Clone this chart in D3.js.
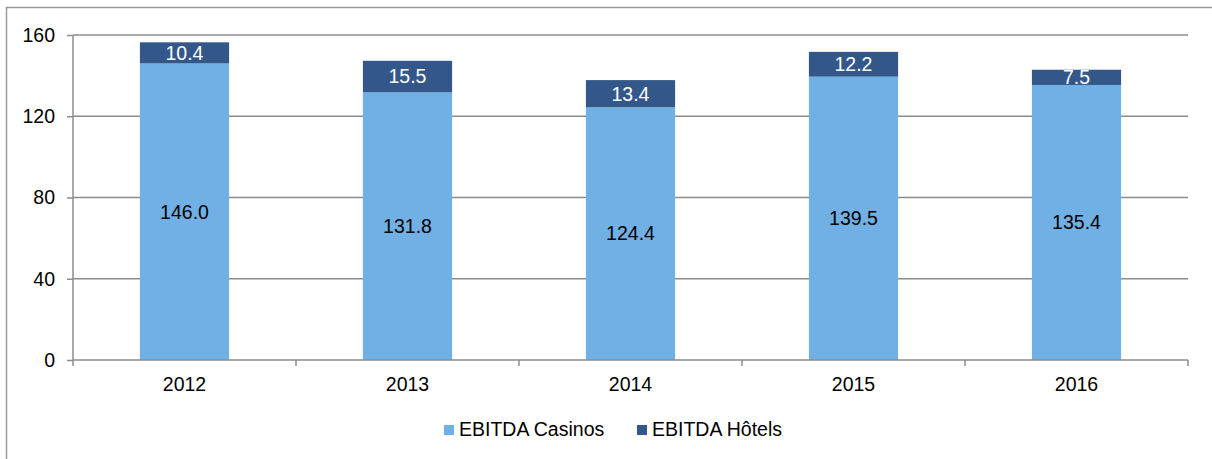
<!DOCTYPE html>
<html>
<head>
<meta charset="utf-8">
<script src="https://cdn.jsdelivr.net/npm/d3@7"></script>
<style>
  html, body { margin: 0; padding: 0; background: #fff; }
  svg { display: block; font-family: "Liberation Sans", Arial, sans-serif; }
</style>
</head>
<body>
<svg id="chart" width="1212" height="459"></svg>
<script>
// EBITDA by year, split between casinos and hotels
const years = ["2012", "2013", "2014", "2015", "2016"];
const casinos = [146.0, 131.8, 124.4, 139.5, 135.4];
const hotels = [10.4, 15.5, 13.4, 12.2, 7.5];
const yTicks = [0, 40, 80, 120, 160];
const seriesNames = ["EBITDA Casinos", "EBITDA Hôtels"];
const seriesColors = ["#71B0E5", "#34578A"];

const svg = d3.select("#chart");
const W = 1212, H = 459;
const plot = { left: 73, right: 1188, top: 35, bottom: 360 };
const fontSize = 19.5;

// Outer frame
svg.append("rect")
  .attr("x", 6.5).attr("y", 7.5)
  .attr("width", W + 10).attr("height", H + 10)
  .attr("fill", "none").attr("stroke", "#9a9a9a").attr("stroke-width", 1.5);

const x = d3.scaleBand().domain(years).range([plot.left, plot.right]).paddingInner(0.6).paddingOuter(0.3);
const xCat = d3.scaleBand().domain(years).range([plot.left, plot.right]);
const y = d3.scaleLinear().domain([0, 160]).range([plot.bottom, plot.top]);

// Horizontal gridlines
svg.append("g").selectAll("line").data(yTicks.filter(t => t > 0)).join("line")
  .attr("x1", plot.left).attr("x2", plot.right)
  .attr("y1", d => y(d)).attr("y2", d => y(d))
  .attr("stroke", "#8c8c8c").attr("stroke-width", 1.5);

// Stacked bars
const stacked = years.map((yr, i) => ({ yr, c: casinos[i], h: hotels[i] }));
const bars = svg.append("g");
bars.selectAll("rect.c").data(stacked).join("rect")
  .attr("x", d => x(d.yr)).attr("width", x.bandwidth())
  .attr("y", d => y(d.c)).attr("height", d => y(0) - y(d.c))
  .attr("fill", seriesColors[0]);
bars.selectAll("rect.h").data(stacked).join("rect")
  .attr("x", d => x(d.yr)).attr("width", x.bandwidth())
  .attr("y", d => y(d.c + d.h)).attr("height", d => y(d.c) - y(d.c + d.h))
  .attr("fill", seriesColors[1]);

// Value labels centred in each segment
const labels = svg.append("g").attr("font-size", fontSize).attr("text-anchor", "middle");
labels.selectAll("text.c").data(stacked).join("text")
  .attr("x", d => x(d.yr) + x.bandwidth() / 2)
  .attr("y", d => y(d.c / 2)).attr("dy", "0.35em")
  .attr("fill", "#000").text(d => d.c.toFixed(1));
labels.selectAll("text.h").data(stacked).join("text")
  .attr("x", d => x(d.yr) + x.bandwidth() / 2)
  .attr("y", d => y(d.c + d.h / 2)).attr("dy", "0.35em")
  .attr("fill", "#fff").text(d => d.h.toFixed(1));

// Y axis
const yAxis = svg.append("g").attr("transform", `translate(${plot.left},0)`)
  .call(d3.axisLeft(y).tickValues(yTicks).tickSize(6).tickPadding(12).tickFormat(d3.format("d")));
yAxis.select(".domain").attr("stroke", "#8c8c8c").attr("stroke-width", 1.5).attr("d", `M0,${plot.top}V${plot.bottom}`);
yAxis.selectAll(".tick line").attr("stroke", "#8c8c8c").attr("stroke-width", 1.5);
yAxis.selectAll(".tick text").attr("font-size", fontSize).attr("fill", "#000").attr("font-family", null);

// X axis with tick marks at category boundaries
const xg = svg.append("g");
xg.append("line")
  .attr("x1", plot.left).attr("x2", plot.right)
  .attr("y1", plot.bottom).attr("y2", plot.bottom)
  .attr("stroke", "#8c8c8c").attr("stroke-width", 1.5);
const boundaries = years.map(yr => xCat(yr)).concat([plot.right]);
xg.selectAll("line.b").data(boundaries).join("line")
  .attr("x1", d => d).attr("x2", d => d)
  .attr("y1", plot.bottom).attr("y2", plot.bottom + 6)
  .attr("stroke", "#8c8c8c").attr("stroke-width", 1.5);
xg.selectAll("text").data(years).join("text")
  .attr("x", d => xCat(d) + xCat.bandwidth() / 2)
  .attr("y", 391)
  .attr("text-anchor", "middle").attr("font-size", fontSize).attr("fill", "#000")
  .text(d => d);

// Legend
const legendItems = [
  { name: seriesNames[0], color: seriesColors[0], x: 444 },
  { name: seriesNames[1], color: seriesColors[1], x: 637 }
];
const lg = svg.append("g");
lg.selectAll("rect").data(legendItems).join("rect")
  .attr("x", d => d.x).attr("y", 425).attr("width", 10).attr("height", 10)
  .attr("fill", d => d.color);
lg.selectAll("text").data(legendItems).join("text")
  .attr("x", d => d.x + 15).attr("y", 436)
  .attr("font-size", fontSize).attr("fill", "#000")
  .text(d => d.name);
</script>
</body>
</html>
